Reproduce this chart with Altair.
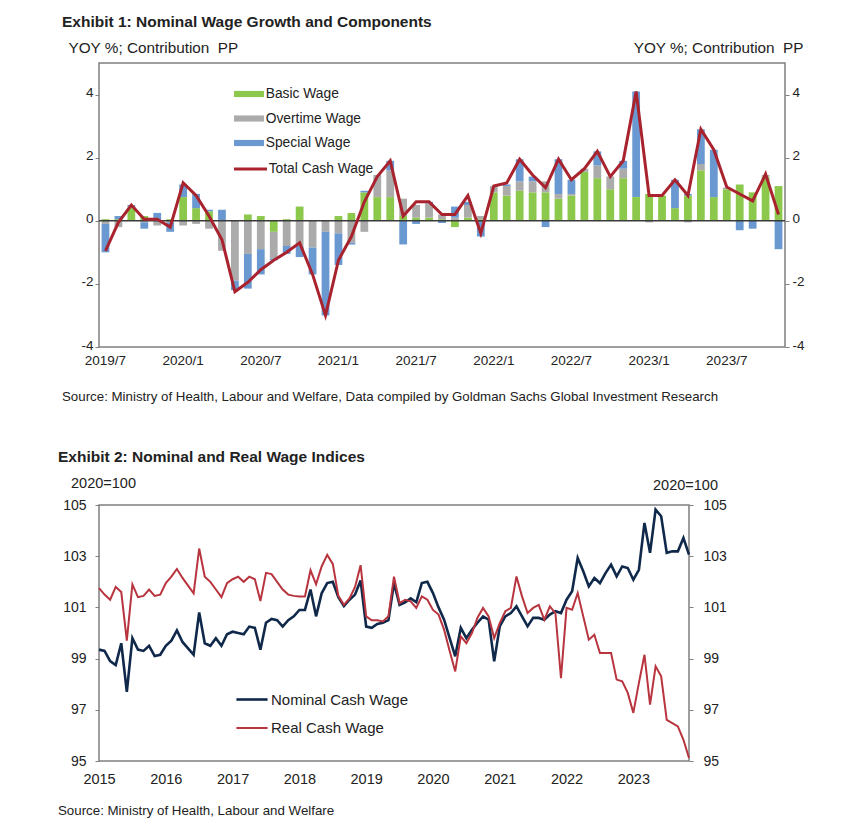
import altair as alt
import pandas as pd

FONT = "Liberation Sans"
TXT = "#222222"

# ---------------- Exhibit 1 data ----------------
months = ["2019/7", "2019/8", "2019/9", "2019/10", "2019/11", "2019/12",
          "2020/1", "2020/2", "2020/3", "2020/4", "2020/5", "2020/6",
          "2020/7", "2020/8", "2020/9", "2020/10", "2020/11", "2020/12",
          "2021/1", "2021/2", "2021/3", "2021/4", "2021/5", "2021/6",
          "2021/7", "2021/8", "2021/9", "2021/10", "2021/11", "2021/12",
          "2022/1", "2022/2", "2022/3", "2022/4", "2022/5", "2022/6",
          "2022/7", "2022/8", "2022/9", "2022/10", "2022/11", "2022/12",
          "2023/1", "2023/2", "2023/3", "2023/4", "2023/5", "2023/6",
          "2023/7", "2023/8", "2023/9", "2023/10", "2023/11"]
basic = [0.05, 0.05, 0.4, 0.15, 0.0, 0.05,
         0.75, 0.4, 0.3, 0.0, 0.0, 0.2, 0.15, -0.35, 0.05, 0.45, 0.0, 0.0,
         0.15, 0.25, 0.9, 0.75, 0.75, 0.15, 0.1, 0.1, 0.05, -0.2, 0.1, 0.05,
         0.9, 0.8, 0.95, 0.9, 0.9, 0.7, 0.8, 1.55, 1.35, 1.0, 1.35, 0.75,
         0.85, 0.8, 0.4, 0.8, 1.6, 0.75, 1.0, 1.15, 0.9, 1.4, 1.1]
overtime = [-0.1, -0.2, 0.05, -0.05, -0.15, -0.05,
            -0.15, -0.1, -0.25, -0.95, -1.9, -1.05, -0.9, -0.85, -0.8, -0.8, -0.85, -0.35,
            -0.4, -0.7, -0.35, 0.7, 0.85, 0.55, 0.4, 0.45, 0.15, 0.1, 0.4, 0.1,
            0.2, 0.3, 0.3, 0.35, 0.35, 0.15, 0.05, 0.1, 0.4, 0.4, 0.3, 0.0,
            -0.05, 0.0, 0.0, -0.05, 0.2, 0.0, 0.05, 0.0, 0.0, 0.05, 0.0]
special = [-0.9, 0.1, 0.05, -0.2, 0.25, -0.3,
           0.4, 0.45, 0.05, 0.35, -0.3, -1.1, -0.8, -0.05, -0.25, -0.35, -0.85, -2.65,
           -1.0, -0.05, 0.05, 0.0, 0.3, -0.75, -0.1, 0.05, -0.07, 0.35, 0.1, -0.5,
           0.0, 0.05, 0.7, 0.15, -0.2, 1.1, 0.45, 0.0, 0.45, 0.0, 0.25, 3.35,
           0.0, 0.0, 0.9, 0.05, 1.1, 1.5, 0.0, -0.3, -0.25, 0.0, -0.9]
total = [-0.95, -0.05, 0.5, 0.05, 0.05, -0.2,
         1.2, 0.8, 0.15, -0.6, -2.25, -1.95, -1.55, -1.25, -1.0, -0.7, -1.7, -3.0,
         -1.25, -0.5, 0.6, 1.4, 1.9, 0.15, 0.6, 0.6, 0.2, 0.2, 0.8, -0.4,
         1.1, 1.2, 1.95, 1.45, 1.05, 1.95, 1.3, 1.65, 2.2, 1.4, 1.9, 4.1,
         0.8, 0.8, 1.3, 0.8, 2.9, 2.25, 1.07, 0.85, 0.63, 1.48, 0.2]
x1_labels = ["2019/7", "2020/1", "2020/7", "2021/1", "2021/7",
             "2022/1", "2022/7", "2023/1", "2023/7"]
components = ["Basic Wage", "Overtime Wage", "Special Wage"]
comp_colors = ["#8CC84B", "#ABABAB", "#6A98D0"]
y1_ticks = [-4, -2, 0, 2, 4]

# ---------------- Exhibit 2 data ----------------
nominal = [99.35, 99.3, 98.9, 98.75, 99.6, 97.7, 99.8, 99.35, 99.3, 99.5, 99.1, 99.15,
           99.5, 99.7, 100.1, 99.65, 99.4, 99.15, 100.8, 99.6, 99.5, 99.8, 99.5, 99.95,
           100.05, 100.0, 99.95, 100.25, 100.2, 99.35, 100.4, 100.55, 100.5, 100.25, 100.5, 100.65,
           100.9, 100.9, 101.7, 100.65, 101.55, 101.95, 102.0, 101.4, 101.05, 101.3, 101.5, 102.05,
           100.25, 100.2, 100.35, 100.4, 100.5, 101.95, 101.1, 101.2, 101.35, 101.2, 101.95, 102.0,
           101.56, 101.0, 100.52, 99.8, 99.09, 100.2, 99.8, 100.13, 100.4, 100.65, 100.52, 98.89,
           100.26, 100.65, 100.78, 101.04, 100.65, 100.26, 100.59, 100.59, 100.52, 100.72, 100.85, 100.78,
           101.3, 101.63, 102.93, 102.41, 101.82, 102.15, 101.95, 102.34, 102.67, 102.21, 102.6, 102.54,
           102.08, 102.47, 104.3, 103.13, 104.82, 104.56, 103.13, 103.19, 103.19, 103.71, 103.06]
real = [101.75, 101.5, 101.3, 101.8, 101.6, 99.7, 101.9, 101.4, 101.45, 101.7, 101.45, 101.5,
        101.95, 102.2, 102.5, 102.15, 101.85, 101.55, 103.3, 102.2, 102.0, 101.7, 101.4, 101.95,
        102.1, 102.2, 102.0, 102.2, 102.1, 101.25, 102.35, 102.3, 102.0, 101.7, 101.5, 101.45,
        101.43, 101.43, 102.45, 101.9, 102.6, 103.05, 102.7, 101.45, 101.1, 101.35, 101.8, 102.65,
        100.65, 100.5, 100.5, 100.45, 100.65, 102.2, 101.17, 101.3, 101.24, 100.98, 101.43, 101.3,
        100.9, 100.72, 100.13, 99.3, 98.5, 99.87, 99.6, 100.0, 100.6, 100.98, 100.65, 99.8,
        100.39, 100.85, 100.98, 102.21, 101.43, 100.78, 100.98, 101.1, 100.52, 101.04, 100.78, 98.24,
        100.98, 100.91, 101.56, 100.65, 99.74, 99.93, 99.22, 99.22, 99.22, 98.18, 98.11, 97.66,
        96.88, 98.05, 99.15, 97.2, 98.7, 98.31, 96.61, 96.48, 96.35, 95.83, 95.12]
years = [2015, 2016, 2017, 2018, 2019, 2020, 2021, 2022, 2023]
series2 = ["Nominal Cash Wage", "Real Cash Wage"]
series2_colors = ["#10294A", "#B8343E"]
y2_ticks = [95, 97, 99, 101, 103, 105]

# ---------------- Exhibit 1 chart ----------------
W1, H1 = 686, 284
rows = []
for i, m in enumerate(months):
    for o, (c, arr) in enumerate(zip(components, [basic, overtime, special])):
        rows.append({"month": m, "component": c, "value": arr[i], "ord": o})
bars_df = pd.DataFrame(rows)
line_df = pd.DataFrame({"month": months, "value": total, "series": "Total Cash Wage"})
zero_df = pd.DataFrame({"value": [0]})

YTITLE = "YOY %; Contribution\u00a0 PP"
y1_scale = alt.Scale(domain=[-4, 5], nice=False, zero=False)
x1 = alt.X("month:O", sort=months,
           scale=alt.Scale(paddingInner=0.4, paddingOuter=0.2),
           axis=alt.Axis(values=x1_labels, labelAngle=0, title=None, ticks=False,
                         domain=False, grid=False, labelFont=FONT, labelFontSize=13.5,
                         labelColor=TXT, labelPadding=6))
axis1_left = alt.Axis(values=y1_ticks, labelExpr="'' + datum.value", title=YTITLE,
                      titleAngle=0, titleX=-31, titleY=-16, titleAlign="left",
                      titleBaseline="middle", titleFont=FONT, titleFontSize=15.3,
                      titleFontWeight="normal", titleColor=TXT, labelFont=FONT,
                      labelFontSize=13.5, labelColor=TXT, tickSize=4, tickColor="#808080",
                      domain=False, grid=False, labelPadding=2, labelOffset=-2)
axis1_right = alt.Axis(orient="right", values=y1_ticks, labelExpr="'' + datum.value",
                       title=YTITLE, titleAngle=0, titleX=18, titleY=-16,
                       titleAlign="right", titleBaseline="middle", titleFont=FONT,
                       titleFontSize=15.3, titleFontWeight="normal", titleColor=TXT,
                       labelFont=FONT, labelFontSize=13.5, labelColor=TXT, tickSize=4,
                       tickColor="#808080", domain=False, grid=False, labelPadding=3,
                       labelOffset=-2)

bars = alt.Chart(bars_df).mark_bar().encode(
    x=x1,
    y=alt.Y("value:Q", stack="zero", scale=y1_scale, axis=axis1_left),
    color=alt.Color("component:N",
                    scale=alt.Scale(domain=components, range=comp_colors),
                    legend=alt.Legend(orient="none", legendX=139, legendY=20, title=None,
                                      symbolType="M-1.36,-0.28L1.36,-0.28L1.36,0.28L-1.36,0.28Z",
                                      symbolSize=484, symbolStrokeWidth=0,
                                      labelFont=FONT, labelFontSize=13.8, labelColor=TXT,
                                      labelOffset=5.7, rowPadding=6.5, padding=0)),
    order=alt.Order("ord:Q", sort="ascending"),
)
zero = alt.Chart(zero_df).mark_rule(color="#3A3A3A", strokeWidth=1.6).encode(
    y=alt.Y("value:Q", scale=y1_scale, axis=axis1_left))
line1 = alt.Chart(line_df).mark_line(strokeWidth=3).encode(
    x=x1,
    y=alt.Y("value:Q", scale=y1_scale, axis=axis1_left),
    stroke=alt.Stroke("series:N",
                      scale=alt.Scale(domain=["Total Cash Wage"], range=["#A8232E"]),
                      legend=alt.Legend(orient="none", legendX=139, legendY=93.5, title=None,
                                        symbolType="M-1.5,0L1.5,0", symbolSize=484,
                                        symbolStrokeWidth=3, labelFont=FONT,
                                        labelFontSize=13.8, labelColor=TXT,
                                        labelOffset=5.7, padding=0)),
)
right1 = alt.Chart(line_df).mark_point(opacity=0).encode(
    y=alt.Y("value:Q", scale=y1_scale, axis=axis1_right))

title1 = alt.Chart(pd.DataFrame({"t": ["Exhibit 1: Nominal Wage Growth and Components"]})).mark_text(
    align="left", baseline="middle", font=FONT, fontSize=15.5, fontWeight="bold", color=TXT
).encode(text="t:N", x=alt.value(-37), y=alt.value(-41))
source1 = alt.Chart(pd.DataFrame({"t": ["Source: Ministry of Health, Labour and Welfare, Data compiled by Goldman Sachs Global Investment Research"]})).mark_text(
    align="left", baseline="middle", font=FONT, fontSize=13.3, color=TXT
).encode(text="t:N", x=alt.value(-37), y=alt.value(334))
anchor1 = alt.Chart(pd.DataFrame({"a": [0]})).mark_rule(opacity=0, strokeWidth=0.01).encode(
    x=alt.value(-86), y=alt.value(-54), y2=alt.value(358))

chart1 = alt.layer(
    alt.layer(bars, zero, line1),
    right1, title1, source1, anchor1
).resolve_scale(y="independent", color="independent", stroke="independent").properties(
    width=W1, height=H1)

# ---------------- Exhibit 2 chart ----------------
W2, H2 = 590, 256
n = len(nominal)
df2 = pd.DataFrame({
    "m": list(range(n)) * 2,
    "value": nominal + real,
    "series": [series2[0]] * n + [series2[1]] * n,
})
y2_scale = alt.Scale(domain=[95, 105], nice=False, zero=False)
x2 = alt.X("m:Q", scale=alt.Scale(domain=[0, n - 1], nice=False, zero=False),
           axis=alt.Axis(values=[(y - years[0]) * 12 for y in years],
                         labelExpr=f"{years[0]} + floor(datum.value / 12)",
                         labelFlush=False, title=None, ticks=False, domain=False,
                         grid=False, labelFont=FONT, labelFontSize=14.5, labelColor=TXT,
                         labelPadding=11))
axis2_left = alt.Axis(values=y2_ticks, title="2020=100", titleAngle=0, titleX=4, titleY=-22,
                      titleAlign="center", titleBaseline="middle", titleFont=FONT,
                      titleFontSize=14.5, titleFontWeight="normal", titleColor=TXT,
                      labelFont=FONT, labelFontSize=14, labelColor=TXT, tickSize=4,
                      tickColor="#808080", domain=False, grid=False, labelPadding=9)
axis2_right = alt.Axis(orient="right", values=y2_ticks, title="2020=100", titleAngle=0,
                       titleX=-4, titleY=-20, titleAlign="center", titleBaseline="middle",
                       titleFont=FONT, titleFontSize=14.5, titleFontWeight="normal",
                       titleColor=TXT, labelFont=FONT, labelFontSize=14, labelColor=TXT,
                       tickSize=4, tickColor="#808080", domain=False, grid=False,
                       labelPadding=10)
lines2 = alt.Chart(df2).mark_line().encode(
    x=x2,
    y=alt.Y("value:Q", scale=y2_scale, axis=axis2_left),
    stroke=alt.Stroke("series:N", scale=alt.Scale(domain=series2, range=series2_colors),
                      legend=alt.Legend(orient="none", legendX=139.5, legendY=181, title=None,
                                        symbolType="M-1.3,0L1.3,0", symbolSize=576,
                                        symbolStrokeWidth=2.5, labelFont=FONT,
                                        labelFontSize=15, labelColor=TXT, labelOffset=5.5,
                                        rowPadding=7, padding=0)),
    strokeWidth=alt.StrokeWidth("series:N", scale=alt.Scale(domain=series2, range=[2.6, 2.0]),
                                legend=None),
)
right2 = alt.Chart(df2).mark_point(opacity=0).encode(
    y=alt.Y("value:Q", scale=y2_scale, axis=axis2_right))
title2 = alt.Chart(pd.DataFrame({"t": ["Exhibit 2: Nominal and Real Wage Indices"]})).mark_text(
    align="left", baseline="middle", font=FONT, fontSize=15.5, fontWeight="bold", color=TXT
).encode(text="t:N", x=alt.value(-41), y=alt.value(-48))
source2 = alt.Chart(pd.DataFrame({"t": ["Source: Ministry of Health, Labour and Welfare"]})).mark_text(
    align="left", baseline="middle", font=FONT, fontSize=13.3, color=TXT
).encode(text="t:N", x=alt.value(-41), y=alt.value(306))
anchor2 = alt.Chart(pd.DataFrame({"a": [0]})).mark_rule(opacity=0, strokeWidth=0.01).encode(
    x=alt.value(-90), y=alt.value(-82), y2=alt.value(320))

chart2 = alt.layer(lines2, right2, title2, source2, anchor2).resolve_scale(
    y="independent").properties(width=W2, height=H2)

chart = alt.concat(chart1, chart2, columns=1, spacing=0, align="none", bounds="full",
                   padding=0).resolve_scale(
    color="independent", stroke="independent", strokeWidth="independent"
).resolve_legend(
    color="independent", stroke="independent", strokeWidth="independent"
).configure_view(stroke="#7F7F7F", strokeWidth=1.5)

chart.save("out.html", embed_options={"renderer": "svg", "actions": False})
